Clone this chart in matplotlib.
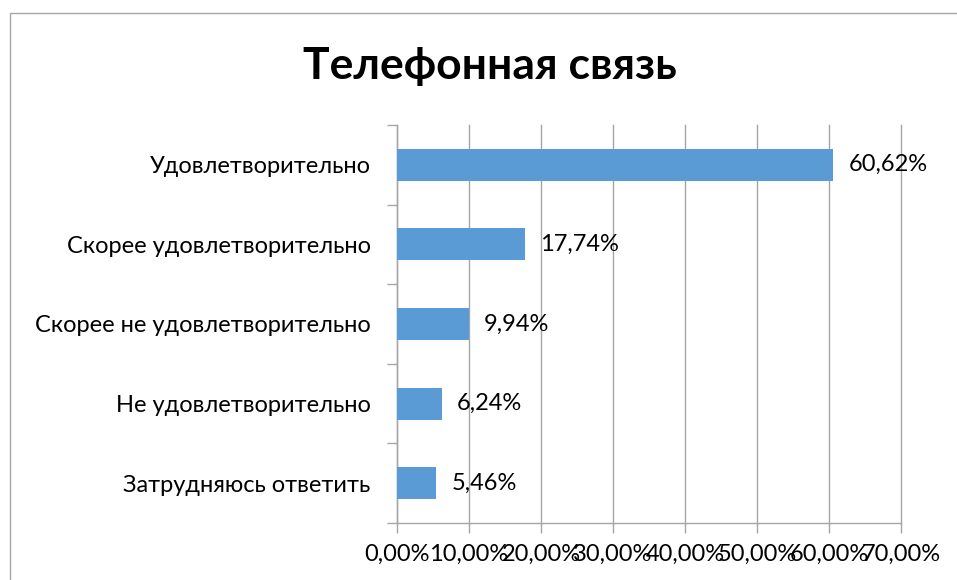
import matplotlib
matplotlib.use("Agg")
import matplotlib.pyplot as plt
from matplotlib.patches import Rectangle
from matplotlib.ticker import MultipleLocator, FuncFormatter, FixedLocator

categories = ["Удовлетворительно", "Скорее удовлетворительно", "Скорее не удовлетворительно",
              "Не удовлетворительно", "Затрудняюсь ответить"]
values = [60.62, 17.74, 9.94, 6.24, 5.46]
title = "Телефонная связь"

plt.rcParams['font.family'] = ['Lato', 'DejaVu Sans']

W, H = 957, 580
fig = plt.figure(figsize=(W/100, H/100), dpi=100)
fig.patch.set_facecolor('white')

# chart frame
fig.add_artist(Rectangle((10/W, -0.1), 1.2, 1 - 13/H + 0.1, transform=fig.transFigure,
                         fill=False, edgecolor='#a6a6a6', linewidth=1.0))

ax = fig.add_axes([397/W, 1 - 523/H, (901-397)/W, (523-125)/H])
n = len(categories)
ys = list(range(n))
ax.barh(ys, values, height=0.4, color='#5b9bd5', zorder=3)
ax.set_ylim(n - 0.5, -0.5)
ax.set_xlim(0, 70)

ax.xaxis.set_major_locator(MultipleLocator(10))
ax.xaxis.set_major_formatter(FuncFormatter(lambda v, p: f"{v:.2f}%".replace('.', ',')))
ax.grid(axis='x', color='#a6a6a6', linewidth=1.0, zorder=0)
for gl in ax.get_xgridlines():
    gl.set_clip_on(False)

ax.set_yticks(ys)
ax.set_yticklabels(categories)
ax.yaxis.set_minor_locator(FixedLocator([i - 0.5 for i in range(n + 1)]))
ax.tick_params(axis='y', which='major', length=0, pad=19, labelsize=17)
ax.tick_params(axis='y', which='minor', length=7, color='#a6a6a6', width=1.0)
ax.tick_params(axis='x', which='major', length=7, color='#a6a6a6', width=1.0, pad=8, labelsize=17)

for s in ['top', 'right']:
    ax.spines[s].set_visible(False)
for s in ['left', 'bottom']:
    ax.spines[s].set_color('#a6a6a6')
    ax.spines[s].set_linewidth(1.0)

for y, v in zip(ys, values):
    ax.annotate(f"{v:.2f}%".replace('.', ','), (v, y), xytext=(11, 0), textcoords='offset points',
                va='center', ha='left', fontsize=17, zorder=4)

fig.text(490/W, 1 - 66/H, title, ha='center', va='center', fontsize=32, fontweight='bold')

fig.savefig("out.png", dpi=100)
